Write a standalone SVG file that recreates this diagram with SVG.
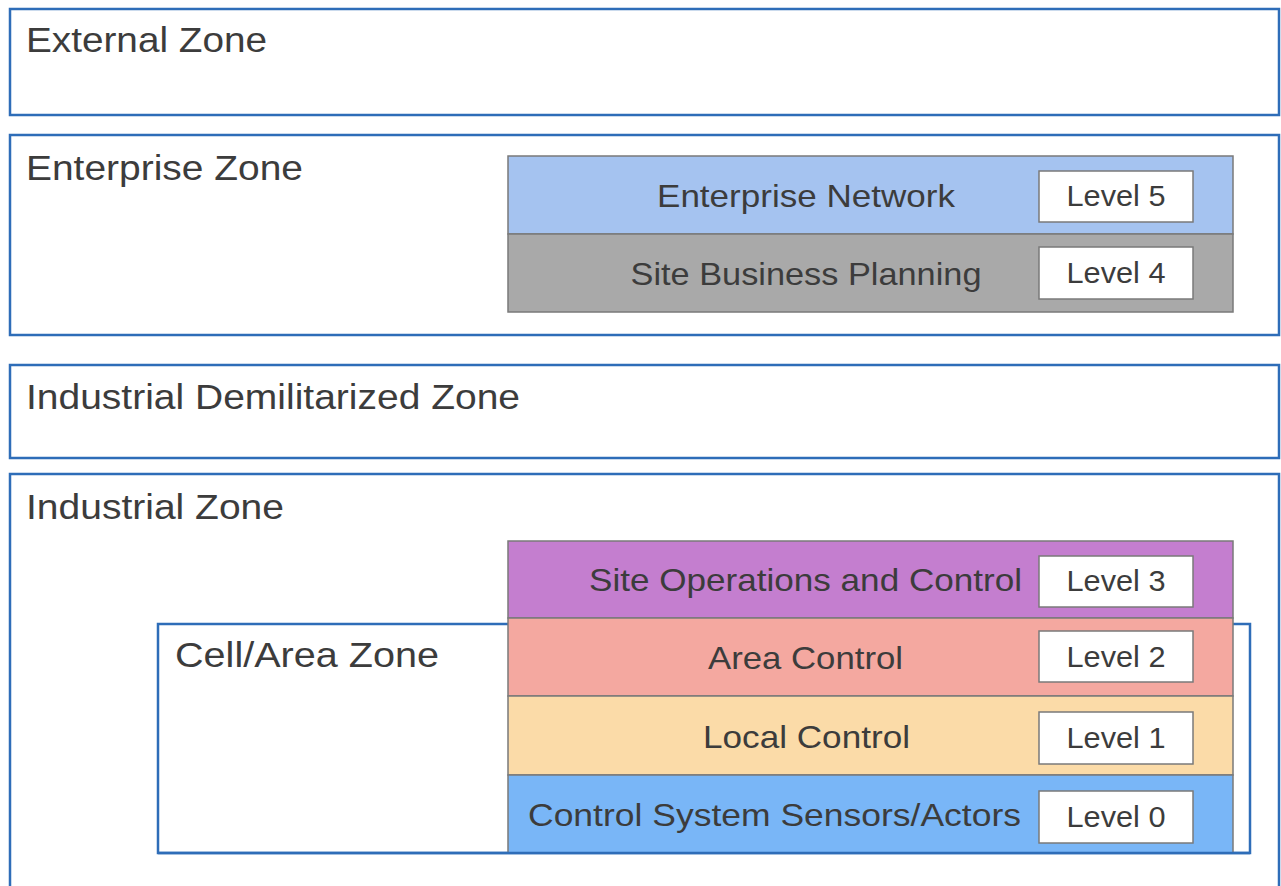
<svg xmlns="http://www.w3.org/2000/svg" width="1281" height="886" viewBox="0 0 1281 886">
<style>
.zone{fill:#fff;stroke:#2e6db8;stroke-width:2.5}
.zl{font-family:"Liberation Sans",Arial,sans-serif;font-size:35px;fill:#3c3c3c}
.layer{stroke:#7a7a7a;stroke-width:1.5}
.ll{font-family:"Liberation Sans",Arial,sans-serif;font-size:32px;fill:#3c3c3c;text-anchor:middle}
.lvl{fill:#fff;stroke:#7a7a7a;stroke-width:1.5}
.lt{font-family:"Liberation Sans",Arial,sans-serif;font-size:29px;fill:#3c3c3c;text-anchor:middle}
</style>
<rect width="1281" height="886" fill="#fff"/>
<g id="external-zone">
<rect class="zone" x="10" y="9" width="1269" height="106"/>
<text class="zl" x="26" y="52" textLength="241" lengthAdjust="spacingAndGlyphs">External Zone</text>
</g>
<g id="enterprise-zone">
<rect class="zone" x="10" y="135" width="1269" height="200"/>
<text class="zl" x="26" y="180" textLength="277" lengthAdjust="spacingAndGlyphs">Enterprise Zone</text>
</g>
<g id="dmz-zone">
<rect class="zone" x="10" y="365" width="1269" height="93"/>
<text class="zl" x="26" y="409" textLength="494" lengthAdjust="spacingAndGlyphs">Industrial Demilitarized Zone</text>
</g>
<g id="industrial-zone">
<rect class="zone" x="10" y="474" width="1269" height="430"/>
<text class="zl" x="26" y="519" textLength="258" lengthAdjust="spacingAndGlyphs">Industrial Zone</text>
</g>
<g id="cell-area-zone">
<rect class="zone" x="158" y="624" width="1092" height="229"/>
<text class="zl" x="175" y="667" textLength="264" lengthAdjust="spacingAndGlyphs">Cell/Area Zone</text>
</g>
<g id="level5">
<rect class="layer" x="508" y="156" width="725" height="78" fill="#a5c3f0"/>
<text class="ll" x="806" y="207" textLength="298" lengthAdjust="spacingAndGlyphs">Enterprise Network</text>
<rect class="lvl" x="1039" y="171" width="154" height="51"/>
<text class="lt" x="1116" y="206" textLength="99" lengthAdjust="spacingAndGlyphs">Level 5</text>
</g>
<g id="level4">
<rect class="layer" x="508" y="234" width="725" height="78" fill="#a9a9a9"/>
<text class="ll" x="806" y="285" textLength="351" lengthAdjust="spacingAndGlyphs">Site Business Planning</text>
<rect class="lvl" x="1039" y="247" width="154" height="52"/>
<text class="lt" x="1116" y="283" textLength="99" lengthAdjust="spacingAndGlyphs">Level 4</text>
</g>
<g id="level3">
<rect class="layer" x="508" y="541" width="725" height="77" fill="#c47ecf"/>
<text class="ll" x="805.5" y="591" textLength="433" lengthAdjust="spacingAndGlyphs">Site Operations and Control</text>
<rect class="lvl" x="1039" y="556" width="154" height="51"/>
<text class="lt" x="1116" y="591" textLength="99" lengthAdjust="spacingAndGlyphs">Level 3</text>
</g>
<g id="level2">
<rect class="layer" x="508" y="618" width="725" height="78" fill="#f4a8a0"/>
<text class="ll" x="805.5" y="669" textLength="195" lengthAdjust="spacingAndGlyphs">Area Control</text>
<rect class="lvl" x="1039" y="631" width="154" height="51"/>
<text class="lt" x="1116" y="667" textLength="99" lengthAdjust="spacingAndGlyphs">Level 2</text>
</g>
<g id="level1">
<rect class="layer" x="508" y="696" width="725" height="79" fill="#fbdba8"/>
<text class="ll" x="806.5" y="748" textLength="207" lengthAdjust="spacingAndGlyphs">Local Control</text>
<rect class="lvl" x="1039" y="712" width="154" height="52"/>
<text class="lt" x="1116" y="748" textLength="99" lengthAdjust="spacingAndGlyphs">Level 1</text>
</g>
<g id="level0">
<rect class="layer" x="508" y="775" width="725" height="78" fill="#79b6f7"/>
<text class="ll" x="774.5" y="826" textLength="493" lengthAdjust="spacingAndGlyphs">Control System Sensors/Actors</text>
<rect class="lvl" x="1039" y="791" width="154" height="52"/>
<text class="lt" x="1116" y="827" textLength="99" lengthAdjust="spacingAndGlyphs">Level 0</text>
</g>
<line x1="158" y1="853" x2="1250" y2="853" stroke="#2e6db8" stroke-width="2.5"/>
</svg>
